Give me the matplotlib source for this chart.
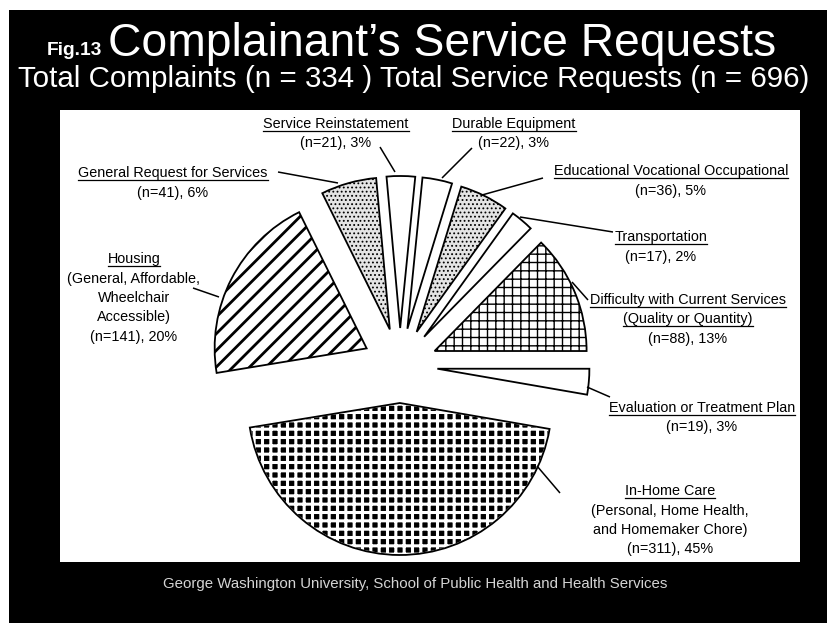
import matplotlib
matplotlib.use("Agg")
import matplotlib.pyplot as plt
from matplotlib.patches import Rectangle, Wedge
from matplotlib import font_manager

# ---------------- data ----------------
categories = ["In-Home Care", "Evaluation or Treatment Plan",
              "Difficulty with Current Services", "Transportation",
              "Educational Vocational Occupational", "Durable Equipment",
              "Service Reinstatement", "General Request for Services", "Housing"]
counts = [311, 19, 88, 17, 36, 22, 21, 41, 141]
percents = [45, 3, 13, 2, 5, 3, 3, 6, 20]
label_heads = [["In-Home Care"], ["Evaluation or Treatment Plan"],
               ["Difficulty with Current Services", "(Quality or Quantity)"],
               ["Transportation"], ["Educational Vocational Occupational"],
               ["Durable Equipment"], ["Service Reinstatement"],
               ["General Request for Services"], ["Housing"]]
label_notes = [["(Personal, Home Health,", "and Homemaker Chore)"], [], [], [], [], [], [], [],
               ["(General, Affordable,", "Wheelchair", "Accessible)"]]
title_fig = "Fig.13"
title_main = "Complainant\u2019s Service Requests"
subtitle = "Total Complaints (n = 334 ) Total Service Requests (n = 696)"
footer = "George Washington University, School of Public Health and Health Services"

# ---------------- layout / style ----------------
W, H = 828, 623
names = {f.name for f in font_manager.fontManager.ttflist}
narrow = "Liberation Sans Narrow" if "Liberation Sans Narrow" in names else "Liberation Sans"

fig = plt.figure(figsize=(W / 100, H / 100), dpi=100, facecolor="white")
ax_bg = fig.add_axes([0, 0, 1, 1], zorder=0)
ax_bg.set_xlim(0, W)
ax_bg.set_ylim(H, 0)
ax_bg.axis("off")
ax_bg.add_patch(Rectangle((9, 10), W - 9, H - 10, facecolor="black", edgecolor="none"))
ax_bg.add_patch(Rectangle((60, 110), 740, 452, facecolor="white", edgecolor="none"))

R = 152.0
cx, cy = 400.0, 365.5
ax = fig.add_axes([0, 0, 1, 1], zorder=2)
ax.patch.set_alpha(0)
wedges, _ = ax.pie(counts, radius=1.0, startangle=189.3, counterclock=True,
                   explode=[37.5 / R] * len(counts), frame=True,
                   wedgeprops=dict(edgecolor="black", linewidth=1.3, facecolor="white"))
ax.set_xlim(-cx / R, (W - cx) / R)
ax.set_ylim(-(H - cy) / R, cy / R)
ax.set_aspect("auto")
ax.axis("off")

styles = [
    dict(face="black", hatch="++", hcol="white", hlw=2.2),   # in-home
    dict(face="white", hatch=None, hcol="black", hlw=1.0),
    dict(face="white", hatch="++", hcol="black", hlw=1.0),   # difficulty
    dict(face="white", hatch=None, hcol="black", hlw=1.0),
    dict(face="#e4e4e4", hatch="....", hcol="black", hlw=0.8),  # educational
    dict(face="white", hatch=None, hcol="black", hlw=1.0),
    dict(face="white", hatch=None, hcol="black", hlw=1.0),
    dict(face="#e4e4e4", hatch="....", hcol="black", hlw=0.8),  # general
    dict(face="white", hatch="//", hcol="black", hlw=2.0),   # housing
]
for w, st in zip(wedges, styles):
    w.set_facecolor(st["face"])
    if st["hatch"]:
        w.set_hatch(st["hatch"])
        w.set_edgecolor(st["hcol"])
        if hasattr(w, "set_hatch_linewidth"):
            w.set_hatch_linewidth(st["hlw"])
    if st["hcol"] != "black":
        ax.add_patch(Wedge(w.center, w.r, w.theta1, w.theta2, fill=False,
                           edgecolor="black", linewidth=1.3))
plt.rcParams["hatch.linewidth"] = 1.5

T = ax_bg.transData

# label anchor positions (center x, first baseline y) and leader line ends (pixels)
label_pos = [(670, 495), (702, 412), (688, 304), (661, 241), (671, 175),
             (514, 128), (336, 128), (173, 177), (134, 263)]
leaders = [((560, 493), (537, 466)), ((610, 397), (587, 387)), ((588, 300), (572, 282)),
           ((613, 232), (520, 217)), ((543, 178), (482, 195)), ((472, 148), (442, 178)),
           ((380, 147), (395, 172)), ((278, 172), (338, 183)), ((193, 288), (219, 297))]
line_step = 19.5

# measure label font scale using one reference width
probe = ax.text(0, 0, "Service Reinstatement", fontsize=12, family=narrow, transform=T)
fig.canvas.draw()
rend = fig.canvas.get_renderer()
lab_fs = 12 * 145.0 / probe.get_window_extent(rend).width
probe.remove()

underlined = []
for i in range(len(categories)):
    x0, y0 = label_pos[i]
    lines = [(s, True) for s in label_heads[i]] + [(s, False) for s in label_notes[i]]
    lines.append((f"(n={counts[i]}), {percents[i]}%", False))
    for k, (s, ul) in enumerate(lines):
        t = ax.text(x0, y0 + k * line_step, s, fontsize=lab_fs, family=narrow,
                    ha="center", va="baseline", color="black", transform=T)
        if ul:
            underlined.append((t, y0 + k * line_step))
    (xa, ya), (xb, yb) = leaders[i]
    ax.plot([xa, xb], [ya, yb], color="black", lw=1.1, transform=T, solid_capstyle="butt")

# titles
t_fig = ax.text(47, 55, title_fig, fontsize=12, fontweight="bold", family="Liberation Sans",
                color="white", ha="left", va="baseline", transform=T)
t_main = ax.text(108, 56, title_main, fontsize=30, family="Liberation Sans",
                 color="white", ha="left", va="baseline", transform=T)
t_sub = ax.text(414, 87, subtitle, fontsize=16, family="Liberation Sans",
                color="white", ha="center", va="baseline", transform=T)
t_foot = ax.text(415, 588, footer, fontsize=10, family=narrow,
                 color="#d4d4d4", ha="center", va="baseline", transform=T)
fig.canvas.draw()
for t, target in [(t_fig, 55), (t_main, 667), (t_sub, 792), (t_foot, 505)]:
    t.set_fontsize(t.get_fontsize() * target / t.get_window_extent(rend).width)

fig.canvas.draw()
inv = T.inverted()
for t, yb in underlined:
    bb = t.get_window_extent(rend)
    xl = inv.transform((bb.x0, bb.y0))[0]
    xr = inv.transform((bb.x1, bb.y0))[0]
    ax.plot([xl, xr], [yb + 2.5, yb + 2.5], color="black", lw=0.9, transform=T)

fig.savefig("out.png", dpi=100, facecolor=fig.get_facecolor())
